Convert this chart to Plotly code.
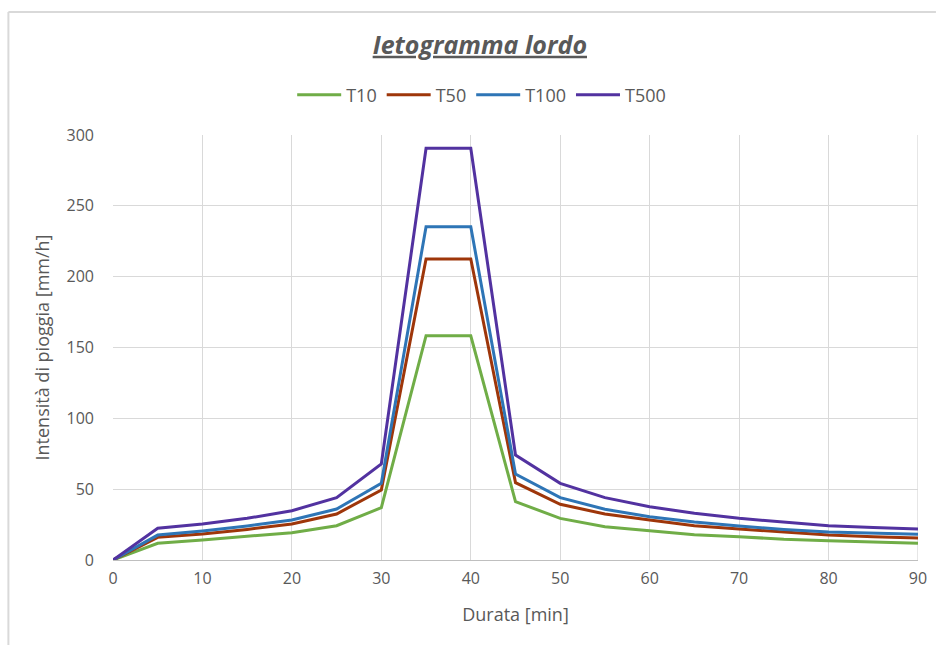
import plotly.graph_objects as go

durata = [0, 5, 10, 15, 20, 25, 30, 35, 40, 45, 50, 55, 60, 65, 70, 75, 80, 85, 90]
t10 = [0, 11.8, 14.1, 16.5, 19.3, 24.2, 36.9, 158.3, 158.3, 41.2, 29.4, 23.5, 20.5, 17.9, 16.5, 14.6, 13.6, 12.5, 11.8]
t50 = [0, 16.0, 18.4, 21.6, 25.4, 32.5, 49.4, 212.5, 212.5, 54.6, 39.3, 32.5, 28.2, 24.2, 21.9, 19.5, 17.6, 16.5, 15.5]
t100 = [0, 17.6, 20.5, 24.0, 28.2, 36.0, 54.1, 235.3, 235.3, 60.7, 44.0, 35.8, 30.6, 26.8, 24.0, 21.6, 19.8, 18.8, 18.1]
t500 = [0, 22.4, 25.4, 29.4, 34.8, 44.0, 67.8, 290.6, 290.6, 74.1, 54.1, 44.0, 37.6, 33.0, 29.4, 26.6, 24.2, 23.0, 21.9]

series = [("T10", t10, "#70AD47"), ("T50", t50, "#9E360A"),
          ("T100", t100, "#2E75B6"), ("T500", t500, "#5232A0")]

FONT = "Open Sans"
GREY = "#595959"

fig = go.Figure()
for name, vals, col in series:
    fig.add_trace(go.Scatter(x=durata, y=vals, name=name, mode="lines",
                             line=dict(color=col, width=3)))

fig.update_layout(
    width=939, height=645,
    margin=dict(l=113, r=18, t=135, b=85),
    plot_bgcolor="white", paper_bgcolor="white",
    font=dict(family=FONT, size=16, color=GREY),
    title=dict(text="<b><i><u>Ietogramma lordo</u></i></b>", xref="container", x=0.511,
               xanchor="center", yref="container", y=1 - 45 / 645, yanchor="middle",
               font=dict(family=FONT, size=25, color=GREY)),
    legend=dict(orientation="h", x=0.458, xanchor="center", y=(560 - 95) / 425,
                yanchor="middle", font=dict(size=18, color=GREY), itemwidth=44,
                tracegroupgap=0),
    showlegend=True,
)
fig.update_xaxes(range=[0, 90], tickvals=list(range(0, 91, 10)), showgrid=True,
                 gridcolor="#d9d9d9", gridwidth=1.3, zeroline=False,
                 showline=True, linecolor="#bfbfbf", linewidth=1.3, mirror=False,
                 ticks="", ticklabelstandoff=4,
                 title=dict(text="Durata [min]", standoff=20, font=dict(size=18, color=GREY)))
fig.update_yaxes(range=[0, 300], tickvals=list(range(0, 301, 50)), showgrid=True,
                 gridcolor="#d9d9d9", gridwidth=1.3, zeroline=False, showline=False,
                 ticks="", ticklabelstandoff=18,
                 title=dict(text="Intensità di pioggia [mm/h]", standoff=12,
                            font=dict(size=18, color=GREY)))
# right edge gridline at x=90
fig.add_shape(type="line", xref="x", yref="paper", x0=90, x1=90, y0=0, y1=1,
              line=dict(color="#d9d9d9", width=1.3), layer="below")
# chart area border (top and left visible)
fig.add_shape(type="line", xref="paper", yref="paper",
              x0=(8 - 113) / 808, x1=(939 - 113) / 808, y0=(560 - 12) / 425, y1=(560 - 12) / 425,
              line=dict(color="#d9d9d9", width=2))
fig.add_shape(type="line", xref="paper", yref="paper",
              x0=(8 - 113) / 808, x1=(8 - 113) / 808, y0=(560 - 12) / 425, y1=(560 - 645) / 425,
              line=dict(color="#d9d9d9", width=2))

fig.write_html("out.html", config={"displayModeBar": False},
               post_script="document.body.style.margin='0';")
